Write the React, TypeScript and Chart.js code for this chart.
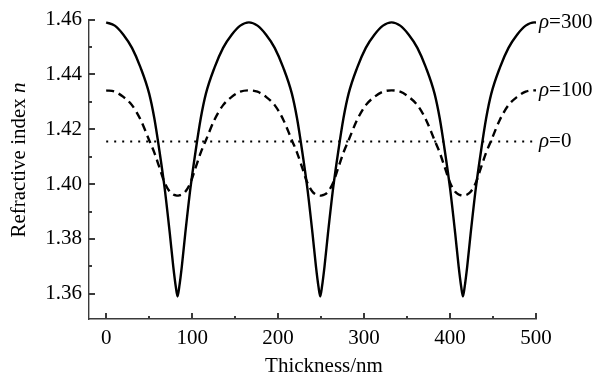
import React, { useEffect, useRef } from "react";
import { Chart, registerables } from "chart.js";

Chart.register(...registerables);

// Thickness (nm) sample positions for the two oscillating curves
const thicknessNm = [
  0, 10, 20, 30, 40, 50, 56, 62, 68, 74, 78, 81, 83,
  85, 88, 92, 98, 104, 110, 116, 126, 136, 146, 156, 166,
  176, 186, 196, 206, 216, 222, 228, 234, 240, 244, 247, 249,
  251, 254, 258, 264, 270, 276, 282, 292, 302, 312, 322, 332,
  342, 352, 362, 372, 382, 388, 394, 400, 406, 410, 413, 415,
  417, 420, 424, 430, 436, 442, 448, 458, 468, 478, 488, 498,
  500,
];

// rho = 300 (solid)
const nRho300 = [
  1.459, 1.4578, 1.4545, 1.4497, 1.4425, 1.433, 1.424, 1.412, 1.3985, 1.382, 1.37, 1.3625, 1.359,
  1.3625, 1.37, 1.382, 1.3985, 1.412, 1.424, 1.433, 1.4425, 1.4497, 1.4545, 1.4578, 1.459,
  1.4578, 1.4545, 1.4497, 1.4425, 1.433, 1.424, 1.412, 1.3985, 1.382, 1.37, 1.3625, 1.359,
  1.3625, 1.37, 1.382, 1.3985, 1.412, 1.424, 1.433, 1.4425, 1.4497, 1.4545, 1.4578, 1.459,
  1.4578, 1.4545, 1.4497, 1.4425, 1.433, 1.424, 1.412, 1.3985, 1.382, 1.37, 1.3625, 1.359,
  1.3625, 1.37, 1.382, 1.3985, 1.412, 1.424, 1.433, 1.4425, 1.4497, 1.4545, 1.4578, 1.459,
  1.4589,
];

// rho = 100 (dashed)
const nRho100 = [
  1.4342, 1.4337, 1.4318, 1.4288, 1.4235, 1.416, 1.4115, 1.406, 1.4005, 1.3972, 1.3962, 1.3959, 1.3958,
  1.3959, 1.3962, 1.3972, 1.4005, 1.406, 1.4115, 1.416, 1.4235, 1.4288, 1.4318, 1.4337, 1.4342,
  1.4337, 1.4318, 1.4288, 1.4235, 1.416, 1.4115, 1.406, 1.4005, 1.3972, 1.3962, 1.3959, 1.3958,
  1.3959, 1.3962, 1.3972, 1.4005, 1.406, 1.4115, 1.416, 1.4235, 1.4288, 1.4318, 1.4337, 1.4342,
  1.4337, 1.4318, 1.4288, 1.4235, 1.416, 1.4115, 1.406, 1.4005, 1.3972, 1.3962, 1.3959, 1.3958,
  1.3959, 1.3962, 1.3972, 1.4005, 1.406, 1.4115, 1.416, 1.4235, 1.4288, 1.4318, 1.4337, 1.4342,
  1.4342,
];

// rho = 0 (dotted, flat)
const flatThicknessNm = [0, 500];
const nRho0 = [1.4155, 1.4155];

const rhoLabels = ["300", "100", "0"];
const xMajorTicks = [0, 100, 200, 300, 400, 500];
const xMinorTicks = [50, 150, 250, 350, 450];
const yMajorTicks = [1.36, 1.38, 1.4, 1.42, 1.44, 1.46];
const yMinorTicks = [1.37, 1.39, 1.41, 1.43, 1.45];
const xTitle = "Thickness/nm";
const yTitleMain = "Refractive index ";
const yTitleItalic = "n";

const FONT = '"Liberation Serif", "Times New Roman", serif';
const FS = 21;
const AXIS_COLOR = "#3a3a3a";

const decorPlugin = {
  id: "decor",
  afterDraw(chart: any) {
    const { ctx, chartArea } = chart;
    const x = chart.scales.x;
    const y = chart.scales.y;
    ctx.save();
    ctx.strokeStyle = AXIS_COLOR;
    ctx.lineWidth = 2;
    const vLine = (px: number, len: number) => {
      ctx.beginPath();
      ctx.moveTo(px, chartArea.bottom);
      ctx.lineTo(px, chartArea.bottom - len);
      ctx.stroke();
    };
    const hLine = (py: number, len: number) => {
      ctx.beginPath();
      ctx.moveTo(chartArea.left, py);
      ctx.lineTo(chartArea.left + len, py);
      ctx.stroke();
    };
    xMajorTicks.forEach((v) => vLine(Math.round(x.getPixelForValue(v)), 6));
    xMinorTicks.forEach((v) => vLine(Math.round(x.getPixelForValue(v)), 3));
    yMajorTicks.forEach((v) => hLine(Math.round(y.getPixelForValue(v)), 6));
    yMinorTicks.forEach((v) => hLine(Math.round(y.getPixelForValue(v)), 3));

    ctx.fillStyle = "#000";
    ctx.textBaseline = "alphabetic";
    // x title
    ctx.font = `${FS}px ${FONT}`;
    ctx.textAlign = "center";
    ctx.fillText(xTitle, 324, 372);

    // y title (rotated, italic n)
    ctx.save();
    ctx.translate(25, 160);
    ctx.rotate(-Math.PI / 2);
    ctx.textAlign = "left";
    ctx.font = `${FS}px ${FONT}`;
    const w1 = ctx.measureText(yTitleMain).width;
    ctx.font = `italic ${FS}px ${FONT}`;
    const w2 = ctx.measureText(yTitleItalic).width;
    const start = -(w1 + w2) / 2;
    ctx.font = `${FS}px ${FONT}`;
    ctx.fillText(yTitleMain, start, 0);
    ctx.font = `italic ${FS}px ${FONT}`;
    ctx.fillText(yTitleItalic, start + w1, 0);
    ctx.restore();

    // rho labels at curve ends
    ctx.textBaseline = "middle";
    ctx.textAlign = "left";
    chart.data.datasets.forEach((_ds: any, i: number) => {
      const meta = chart.getDatasetMeta(i);
      const last = meta.data[meta.data.length - 1];
      const lx = last.x + 3;
      const ly = last.y;
      ctx.font = `italic ${FS}px ${FONT}`;
      ctx.fillText("\u03C1", lx, ly);
      const wr = ctx.measureText("\u03C1").width;
      ctx.font = `${FS}px ${FONT}`;
      ctx.fillText("=" + rhoLabels[i], lx + wr, ly);
    });
    ctx.restore();
  },
};

export default function App() {
  const ref = useRef<HTMLCanvasElement | null>(null);
  useEffect(() => {
    if (!ref.current) return;
    const toPts = (xs: number[], ys: number[]) => xs.map((v, i) => ({ x: v, y: ys[i] }));
    const chart = new Chart(ref.current, {
      type: "line",
      data: {
        datasets: [
          {
            label: "rho=300",
            data: toPts(thicknessNm, nRho300),
            borderColor: "#000",
            borderWidth: 2.4,
            pointRadius: 0,
            cubicInterpolationMode: "monotone",
            fill: false,
          },
          {
            label: "rho=100",
            data: toPts(thicknessNm, nRho100),
            borderColor: "#000",
            borderWidth: 2.4,
            borderDash: [8, 5],
            pointRadius: 0,
            cubicInterpolationMode: "monotone",
            fill: false,
          },
          {
            label: "rho=0",
            data: toPts(flatThicknessNm, nRho0),
            borderColor: "#000",
            borderWidth: 2,
            borderDash: [2, 6],
            pointRadius: 0,
            fill: false,
          },
        ],
      },
      options: {
        animation: false,
        responsive: false,
        devicePixelRatio: 1,
        layout: { padding: { left: 0, right: 63, top: 15, bottom: 0 } },
        plugins: { legend: { display: false }, tooltip: { enabled: false }, title: { display: false } },
        scales: {
          x: {
            type: "linear",
            min: -20,
            max: 500,
            grid: { display: false, drawTicks: false },
            border: { display: true, color: AXIS_COLOR, width: 1.4 },
            afterBuildTicks: (s: any) => {
              s.ticks = xMajorTicks.map((v) => ({ value: v }));
            },
            afterFit: (s: any) => {
              s.height = 58;
            },
            ticks: {
              autoSkip: false,
              maxRotation: 0,
              padding: 7,
              color: "#000",
              font: { family: FONT, size: FS },
            },
          },
          y: {
            type: "linear",
            min: 1.3508,
            max: 1.46,
            grid: { display: false, drawTicks: false },
            border: { display: true, color: AXIS_COLOR, width: 1.4 },
            afterBuildTicks: (s: any) => {
              s.ticks = yMajorTicks.map((v) => ({ value: v }));
            },
            afterFit: (s: any) => {
              s.width = 89;
            },
            ticks: {
              autoSkip: false,
              padding: 7,
              color: "#000",
              font: { family: FONT, size: FS },
              callback: (v: any) => Number(v).toFixed(2),
            },
          },
        },
      },
      plugins: [decorPlugin],
    });
    return () => chart.destroy();
  }, []);
  return (
    <div style={{ position: "fixed", left: 0, top: 0, width: 599, height: 377, background: "#fff" }}>
      <canvas ref={ref} width={599} height={377} style={{ width: 599, height: 377 }} />
    </div>
  );
}
